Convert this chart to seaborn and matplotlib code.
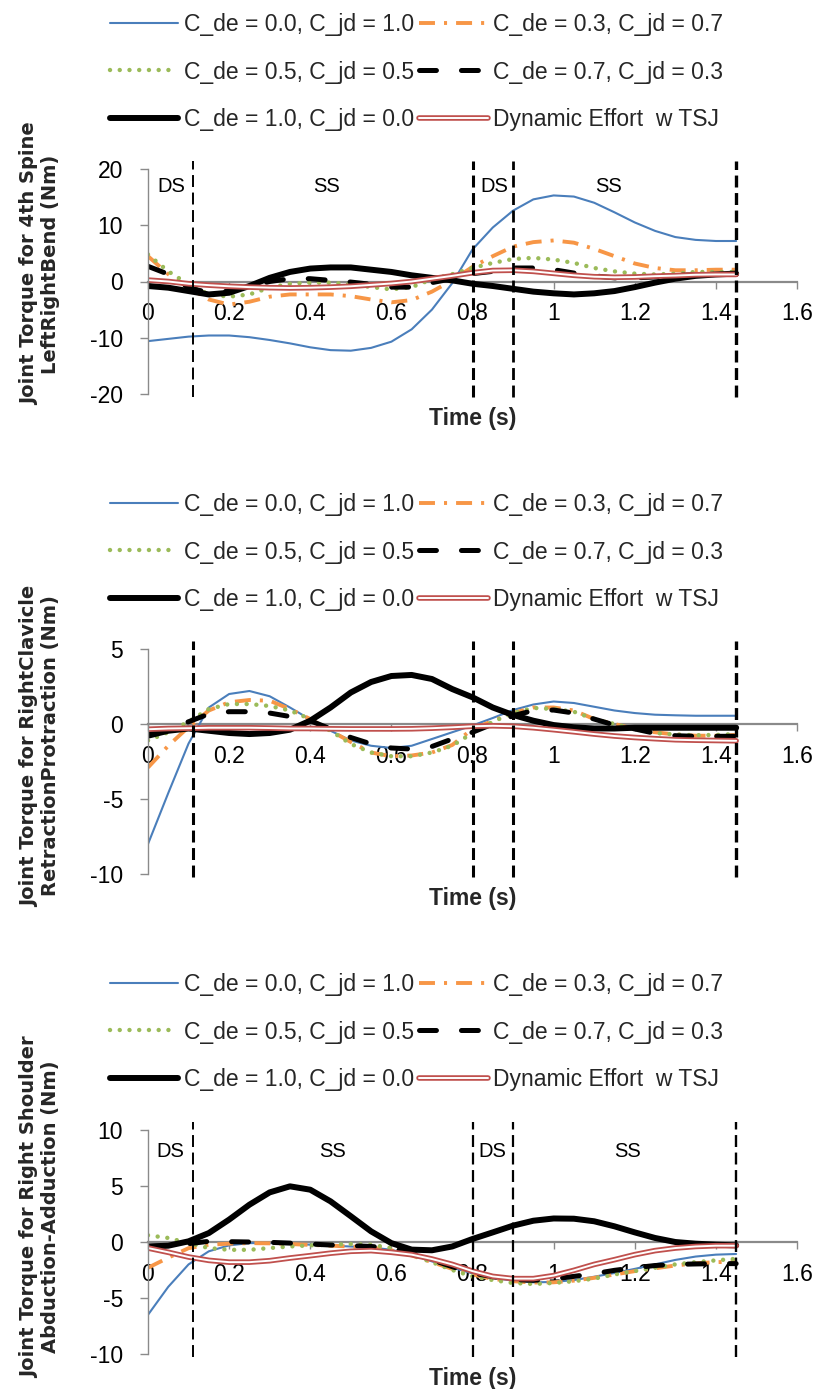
import numpy as np
import matplotlib
matplotlib.use("Agg")
import matplotlib.pyplot as plt
import matplotlib.patheffects as pe
import seaborn as sns

# ---------------- data ----------------
time_s = [0.00, 0.05, 0.10, 0.15, 0.20, 0.25, 0.30, 0.35, 0.40, 0.45,
          0.50, 0.55, 0.60, 0.65, 0.70, 0.75, 0.80, 0.85, 0.90, 0.95,
          1.00, 1.05, 1.10, 1.15, 1.20, 1.25, 1.30, 1.35, 1.40, 1.45]

series_labels = ["C_de = 0.0, C_jd = 1.0", "C_de = 0.3, C_jd = 0.7",
                 "C_de = 0.5, C_jd = 0.5", "C_de = 0.7, C_jd = 0.3",
                 "C_de = 1.0, C_jd = 0.0", "Dynamic Effort  w TSJ"]

# Panel 1: 4th Spine LeftRightBend
spine_c00 = [-10.6, -10.2, -9.8, -9.6, -9.6, -9.9, -10.4, -11.0, -11.7, -12.2,
             -12.3, -11.8, -10.7, -8.5, -5.0, -0.3, 5.7, 9.6, 12.6, 14.6,
             15.3, 15.1, 14.0, 12.3, 10.5, 9.0, 7.9, 7.4, 7.2, 7.2]
spine_c03 = [4.5, 1.3, -1.1, -3.2, -4.1, -3.6, -2.7, -2.3, -2.3, -2.3,
             -2.6, -3.2, -3.7, -3.3, -1.8, 0.2, 2.6, 4.5, 6.2, 7.0,
             7.3, 6.9, 5.8, 4.5, 3.2, 2.4, 2.0, 2.0, 2.1, 2.1]
spine_c05 = [4.8, 1.8, -0.5, -2.3, -2.7, -2.3, -1.1, -0.4, -0.2, -0.2,
             -0.5, -1.0, -1.4, -1.0, 0.4, 1.3, 2.4, 3.3, 4.0, 4.2,
             3.9, 3.3, 2.4, 1.8, 1.4, 1.25, 1.4, 1.7, 1.7, 1.7]
spine_c07 = [2.7, 1.3, -1.1, -2.0, -1.7, -0.8, 0.0, 0.5, 0.5, 0.2,
             -0.1, -0.5, -1.0, -1.0, -0.2, 0.5, 1.4, 1.8, 2.4, 2.4,
             2.1, 1.5, 1.0, 0.65, 0.65, 0.8, 1.1, 1.2, 1.25, 1.25]
spine_c10 = [-0.8, -1.1, -1.7, -2.3, -2.0, -0.8, 0.65, 1.7, 2.3, 2.5,
             2.5, 2.1, 1.7, 1.1, 0.65, 0.2, -0.4, -0.8, -1.3, -1.8,
             -2.1, -2.3, -2.1, -1.7, -1.0, -0.2, 0.5, 1.0, 1.25, 1.4]
spine_tsj = [0.25, 0.0, -0.4, -0.65, -0.85, -1.0, -1.1, -1.15, -1.1, -1.0,
             -0.85, -0.6, -0.35, 0.0, 0.5, 1.0, 1.55, 1.95, 2.0, 1.8,
             1.45, 1.1, 0.85, 0.75, 0.8, 0.95, 1.05, 1.2, 1.25, 1.25]

# Panel 2: RightClavicle RetractionProtraction
clav_c00 = [-8.0, -4.6, -1.3, 1.1, 2.0, 2.2, 1.85, 1.1, 0.3, -0.45,
            -1.1, -1.45, -1.6, -1.45, -1.0, -0.55, -0.1, 0.4, 0.93, 1.3,
            1.5, 1.4, 1.15, 0.9, 0.73, 0.62, 0.58, 0.55, 0.55, 0.55]
clav_c03 = [-2.9, -1.45, -0.2, 0.9, 1.45, 1.6, 1.55, 1.0, 0.33, -0.45,
            -1.2, -1.9, -2.15, -2.1, -1.9, -1.4, -0.33, 0.2, 0.73, 1.1,
            1.1, 0.9, 0.33, 0.0, -0.33, -0.55, -0.7, -0.78, -0.78, -0.73]
clav_c05 = [-1.1, -0.55, 0.15, 1.0, 1.33, 1.33, 1.2, 0.9, 0.33, -0.45,
            -1.33, -1.9, -2.15, -2.15, -1.9, -1.45, -0.6, 0.15, 0.73, 1.07,
            1.0, 0.82, 0.33, 0.0, -0.33, -0.6, -0.7, -0.75, -0.73, -0.67]
clav_c07 = [-0.7, -0.33, 0.15, 0.67, 0.82, 0.82, 0.73, 0.5, 0.22, -0.33,
            -0.9, -1.33, -1.6, -1.67, -1.5, -1.0, -0.55, 0.0, 0.55, 0.9,
            0.93, 0.73, 0.33, -0.07, -0.33, -0.62, -0.78, -0.82, -0.82, -0.82]
clav_c10 = [-0.78, -0.45, -0.3, -0.45, -0.6, -0.67, -0.6, -0.38, 0.22, 1.1,
            2.1, 2.8, 3.2, 3.27, 3.0, 2.33, 1.78, 1.1, 0.6, 0.22,
            -0.07, -0.22, -0.3, -0.3, -0.25, -0.25, -0.25, -0.25, -0.25, -0.25]
clav_tsj = [-0.35, -0.3, -0.28, -0.25, -0.25, -0.25, -0.27, -0.3, -0.3, -0.32,
            -0.33, -0.33, -0.33, -0.32, -0.28, -0.22, -0.15, -0.12, -0.15, -0.25,
            -0.38, -0.52, -0.67, -0.8, -0.9, -0.98, -1.05, -1.08, -1.1, -1.12]

# Panel 3: Right Shoulder Abduction-Adduction
shld_c00 = [-6.5, -4.0, -2.0, -0.83, -0.3, -0.1, -0.1, -0.15, -0.24, -0.33,
            -0.4, -0.48, -0.7, -1.13, -1.73, -2.3, -2.8, -3.2, -3.45, -3.6,
            -3.57, -3.4, -3.1, -2.77, -2.4, -2.0, -1.6, -1.3, -1.13, -1.07]
shld_c03 = [-2.3, -1.4, -0.55, -0.24, -0.15, -0.1, -0.12, -0.18, -0.26, -0.33,
            -0.4, -0.5, -0.75, -1.2, -1.8, -2.4, -2.9, -3.3, -3.5, -3.62,
            -3.6, -3.45, -3.2, -2.9, -2.6, -2.35, -2.1, -1.9, -1.8, -1.75]
shld_c05 = [0.6, 0.36, -0.1, -0.54, -0.7, -0.7, -0.54, -0.4, -0.3, -0.24,
            -0.18, -0.24, -0.54, -1.13, -1.8, -2.5, -3.07, -3.4, -3.66, -3.75,
            -3.66, -3.5, -3.27, -2.9, -2.6, -2.3, -2.0, -1.8, -1.64, -1.5]
shld_c07 = [-0.4, -0.33, -0.15, 0.06, 0.03, 0.0, -0.03, -0.1, -0.18, -0.27,
            -0.33, -0.4, -0.54, -1.0, -1.6, -2.2, -2.77, -3.1, -3.36, -3.42,
            -3.3, -3.07, -2.83, -2.53, -2.3, -2.1, -2.0, -1.96, -1.93, -1.93]
shld_c10 = [-0.4, -0.33, 0.06, 0.8, 2.0, 3.33, 4.43, 4.97, 4.67, 3.63,
            2.3, 0.95, -0.1, -0.68, -0.74, -0.4, 0.27, 0.86, 1.46, 1.9,
            2.1, 2.08, 1.85, 1.4, 0.86, 0.36, 0.0, -0.15, -0.24, -0.3]
shld_tsj = [-0.54, -0.92, -1.34, -1.64, -1.8, -1.8, -1.67, -1.43, -1.22, -1.0,
            -0.83, -0.77, -0.92, -1.13, -1.52, -2.0, -2.6, -3.07, -3.27, -3.27,
            -3.0, -2.53, -2.0, -1.58, -1.13, -0.77, -0.54, -0.4, -0.33, -0.33]

# phase boundaries (s) and phase labels
phase_times = [0.11, 0.80, 0.90, 1.45]
phase_names = ["DS", "SS", "DS", "SS"]

x_ticks = [0.0, 0.2, 0.4, 0.6, 0.8, 1.0, 1.2, 1.4, 1.6]
x_tick_labels = ["0", "0.2", "0.4", "0.6", "0.8", "1", "1.2", "1.4", "1.6"]

y_labels = ["Joint Torque for 4th Spine\nLeftRightBend (Nm)",
            "Joint Torque for RightClavicle\nRetractionProtraction (Nm)",
            "Joint Torque for Right Shoulder\nAbduction-Adduction (Nm)"]
y_limits = [(-20, 20), (-10, 5), (-10, 10)]
y_ticks = [[-20, -10, 0, 10, 20], [-10, -5, 0, 5], [-10, -5, 0, 5, 10]]

panel_series = [
    [spine_c00, spine_c03, spine_c05, spine_c07, spine_c10, spine_tsj],
    [clav_c00, clav_c03, clav_c05, clav_c07, clav_c10, clav_tsj],
    [shld_c00, shld_c03, shld_c05, shld_c07, shld_c10, shld_tsj],
]

# ---------------- style ----------------
sns.set_theme(style="white")
plt.rcParams["font.family"] = ["Liberation Sans", "DejaVu Sans"]
plt.rcParams["axes.unicode_minus"] = False
plt.rcParams["lines.scale_dashes"] = False

RED = "#C0504D"
series_styles = [
    dict(color="#4A7EBB", linewidth=1.5),
    dict(color="#F79646", linewidth=2.8, linestyle=(0, (11.5, 6.5, 2.2, 6.5))),
    dict(color="#9BBB59", linewidth=3.2, linestyle=(0, (0.01, 7.0)),
         dash_capstyle="round"),
    dict(color="black", linewidth=3.6, linestyle=(0, (12.2, 18.0)),
         dash_capstyle="round"),
    dict(color="black", linewidth=4.3, solid_capstyle="round"),
    dict(color="white", linewidth=1.4,
         path_effects=[pe.Stroke(linewidth=4.0, foreground=RED), pe.Normal()]),
]

# layout (figure fractions)
AX_LEFT, AX_W = 148 / 819, 649 / 819
ax_bottoms = [1 - 394 / 1389, 1 - 874 / 1389, 1 - 1354 / 1389]
ax_heights = [225 / 1389, 225 / 1389, 224 / 1389]
legend_y = [1 - 72 / 1389, 1 - 552 / 1389, 1 - 1032 / 1389]
ylabel_center = [1 - 264 / 1389, 1 - 746 / 1389, 1 - 1207 / 1389]
phase_line_widths = [[1.4, 2.2, 2.0, 2.4], [2.2, 2.2, 2.2, 2.4], [1.4, 1.6, 1.6, 1.7]]
phase_label_pos = [([0.057, 0.44, 0.855, 1.135], 16.8), None,
                   ([0.054, 0.455, 0.848, 1.183], 8.06)]

FS = 16.5
GRAY = "#8A8A8A"

fig = plt.figure(figsize=(8.19, 13.89), dpi=100)

for i in range(3):
    ax = fig.add_axes([AX_LEFT, ax_bottoms[i], AX_W, ax_heights[i]])
    handles = []
    for vals, st in zip(panel_series[i], series_styles):
        sns.lineplot(x=time_s, y=vals, ax=ax, legend=False, estimator=None,
                     sort=False, **st)
        handles.append(ax.lines[-1])

    ax.set_xlim(0, 1.6)
    ax.set_ylim(*y_limits[i])
    ax.set_xticks(x_ticks)
    ax.set_xticklabels(x_tick_labels)
    ax.set_yticks(y_ticks[i])
    ax.set_xlabel("")
    ax.set_ylabel("")
    ax.grid(False)
    for s in ["top", "right"]:
        ax.spines[s].set_visible(False)
    ax.spines["bottom"].set_position(("data", 0))
    ax.spines["bottom"].set_color(GRAY)
    ax.spines["bottom"].set_linewidth(1.6)
    ax.spines["bottom"].set_zorder(0.5)
    ax.spines["left"].set_color(GRAY)
    ax.spines["left"].set_linewidth(1.0)
    ax.tick_params(axis="x", bottom=True, direction="out", length=5, width=1.0,
                   color=GRAY, pad=10, labelsize=FS, labelcolor="black")
    ax.tick_params(axis="y", left=True, direction="out", length=6, width=1.0,
                   color=GRAY, pad=12, labelsize=FS, labelcolor="black")

    # phase boundaries
    for tp, lw in zip(phase_times, phase_line_widths[i]):
        ax.axvline(tp, ymin=-0.015, ymax=1.035, color="black", linewidth=lw,
                   linestyle=(0, (8.6, 4.0)), clip_on=False, zorder=6)
    if phase_label_pos[i] is not None:
        xs, yv = phase_label_pos[i]
        for name, xp in zip(phase_names, xs):
            ax.text(xp, yv, name, ha="center", va="center", fontsize=14.5,
                    color="black")

    ax.annotate("Time (s)", xy=(0.5, 0), xycoords="axes fraction",
                xytext=(0, -24), textcoords="offset pixels", ha="center",
                va="center", fontsize=FS, fontweight="bold")

    fig.text(0.0488, ylabel_center[i], y_labels[i], rotation=90, ha="center",
             va="center", fontsize=14, fontweight="bold",
             family=["DejaVu Sans"], linespacing=1.15, multialignment="center")

    order = [0, 2, 4, 1, 3, 5]
    fig.legend([handles[k] for k in order], [series_labels[k] for k in order],
               ncol=2, loc="center", bbox_to_anchor=(0.5085, legend_y[i]),
               frameon=False, fontsize=FS, handlelength=3.0,
               handletextpad=0.25, columnspacing=0.2, labelspacing=1.08,
               borderpad=0.0)

fig.savefig("out.png", dpi=100)
